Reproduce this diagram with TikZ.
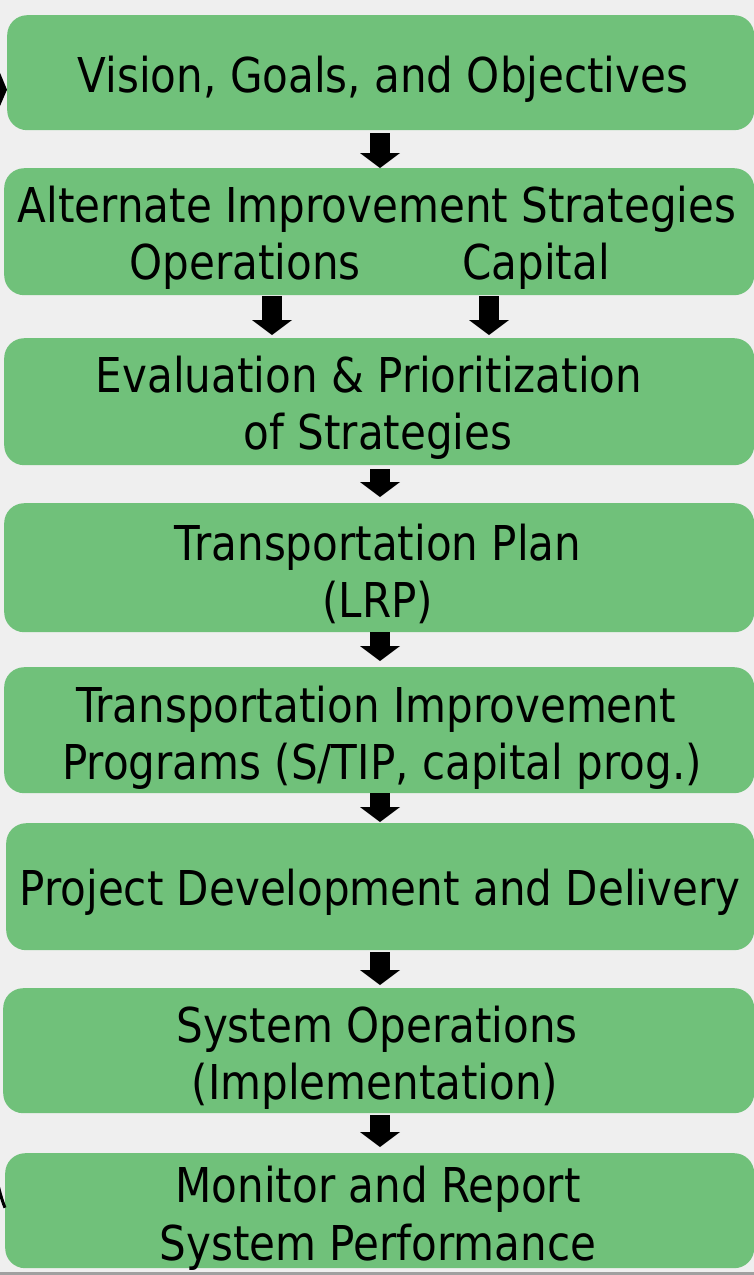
\documentclass[tikz,border=0pt]{standalone}
\usepackage{fontspec}
\setmainfont[FakeStretch=0.876]{DejaVu Sans}
\usetikzlibrary{arrows.meta}
\definecolor{boxgreen}{RGB}{112,193,122}
\definecolor{bgcol}{RGB}{239,239,239}
\definecolor{edgegray}{RGB}{160,160,160}
\tikzset{
  box/.style={fill=boxgreen, draw=none, rounded corners=20pt, inner sep=0pt, anchor=north west},
  txt/.style={anchor=base, inner sep=0pt, font=\fontsize{48}{57}\selectfont},
  barrow/.style={line width=20pt, -{Triangle[length=15pt, width=40pt, line width=0pt]}},
  loop/.style={line width=3pt, -{Triangle[length=8pt, width=38pt, line width=0pt]}}
}
\begin{document}
\begin{tikzpicture}[x=1pt,y=1pt]
\useasboundingbox (0,0) rectangle (754,-1275);
\fill[bgcol] (0,0) rectangle (754,-1275);
\fill[edgegray] (0,-1272) rectangle (754,-1275);
% boxes
\node[box, minimum width=747pt, minimum height=115pt] (b1) at (7,-15) {};
\node[box, minimum width=750pt, minimum height=127pt] (b2) at (4,-168) {};
\node[box, minimum width=750pt, minimum height=127pt] (b3) at (4,-338) {};
\node[box, minimum width=750pt, minimum height=129pt] (b4) at (4,-503) {};
\node[box, minimum width=750pt, minimum height=126pt] (b5) at (4,-667) {};
\node[box, minimum width=748pt, minimum height=127pt] (b6) at (6,-823) {};
\node[box, minimum width=751pt, minimum height=125pt] (b7) at (3,-988) {};
\node[box, minimum width=749pt, minimum height=115pt] (b8) at (5,-1153) {};
% texts
\node[txt] (t1) at (383,-92) {Vision, Goals, and Objectives};
\node[txt] (t2a) at (377,-222) {Alternate Improvement Strategies};
\node[txt] (t2b) at (245,-279) {Operations};
\node[txt] (t2c) at (536,-279) {Capital};
\node[txt] (t3a) at (369,-392) {Evaluation \& Prioritization};
\node[txt] (t3b) at (378,-449) {of Strategies};
\node[txt] (t4a) at (378,-560) {Transportation Plan};
\node[txt] (t4b) at (378,-617) {(LRP)};
\node[txt] (t5a) at (376,-722) {Transportation Improvement};
\node[txt] (t5b) at (382,-779) {Programs (S/TIP, capital prog.)};
\node[txt] (t6) at (380,-905) {Project Development and Delivery};
\node[txt] (t7a) at (377,-1042) {System Operations};
\node[txt] (t7b) at (375,-1099) {(Implementation)};
\node[txt] (t8a) at (378,-1202) {Monitor and Report};
\node[txt] (t8b) at (378,-1260) {System Performance};
% arrow columns
\coordinate (ax) at (380,0);
\coordinate (axl) at (272,0);
\coordinate (axr) at (489,0);
\draw[barrow, shorten <=3pt] (b1.south -| ax) -- (b2.north -| ax);
\draw[barrow, shorten <=1pt, shorten >=3pt] (b2.south -| axl) -- (b3.north -| axl);
\draw[barrow, shorten <=1pt, shorten >=3pt] (b2.south -| axr) -- (b3.north -| axr);
\draw[barrow, shorten <=4pt, shorten >=6pt] (b3.south -| ax) -- (b4.north -| ax);
\draw[barrow, shorten <=0pt, shorten >=6pt] (b4.south -| ax) -- (b5.north -| ax);
\draw[barrow, shorten <=0pt, shorten >=1pt] (b5.south -| ax) -- (b6.north -| ax);
\draw[barrow, shorten <=2pt, shorten >=3pt] (b6.south -| ax) -- (b7.north -| ax);
\draw[barrow, shorten <=2pt, shorten >=6pt] (b7.south -| ax) -- (b8.north -| ax);
% return loop (mostly outside the picture)
\coordinate (loopstart) at ([yshift=3pt]b8.west);
\coordinate (loopend) at ([yshift=-17pt]b1.west);
\coordinate (lc1) at (-40,-1100);
\coordinate (lc2) at (-120,-89);
\draw[loop] (loopstart) .. controls (lc1) and (lc2) .. (loopend);
\end{tikzpicture}
\end{document}
